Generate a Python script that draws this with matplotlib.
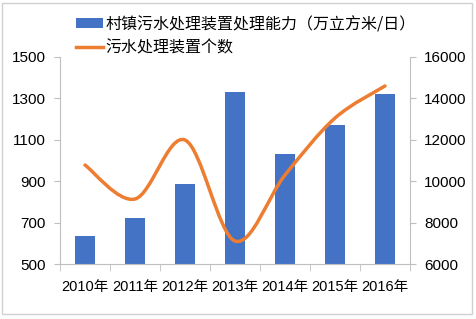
import matplotlib

matplotlib.use("Agg")

import matplotlib.pyplot as plt
import numpy as np
from matplotlib.lines import Line2D
from matplotlib.patches import PathPatch, Patch, Rectangle
from matplotlib.path import Path

plt.rcParams["font.family"] = ["Liberation Sans", "Noto Sans CJK SC"]

years = ["2010年", "2011年", "2012年", "2013年", "2014年", "2015年", "2016年"]
capacity = [635, 722, 886, 1333, 1031, 1171, 1321]
devices = [10780, 9140, 11990, 7110, 10300, 13050, 14600]

bar_label = "村镇污水处理装置处理能力（万立方米/日）"
line_label = "污水处理装置个数"

BLUE = "#4472C4"
ORANGE = "#ED7D31"
GRAY = "#BFBFBF"


def smooth_path(xs, ys):
    # Excel-style smoothed line: cubic Bezier through each point
    pts = np.column_stack([xs, ys]).astype(float)
    n = len(pts)
    verts = [pts[0]]
    codes = [Path.MOVETO]
    for i in range(n - 1):
        p0 = pts[max(i - 1, 0)]
        p1 = pts[i]
        p2 = pts[i + 1]
        p3 = pts[min(i + 2, n - 1)]
        c1 = p1 + (p2 - p0) / 6
        c2 = p2 - (p3 - p1) / 6
        verts += [c1, c2, p2]
        codes += [Path.CURVE4] * 3
    return Path(verts, codes)


fig = plt.figure(figsize=(4.77, 3.19), dpi=100)
ax = fig.add_axes([60 / 477, 1 - 264 / 319, 350 / 477, 207 / 319])
ax2 = ax.twinx()

x = np.arange(len(years))
ax.bar(x, capacity, width=0.4, color=BLUE, zorder=2)
ax.set_xlim(-0.5, len(years) - 0.5)
ax.set_ylim(500, 1500)
ax.set_yticks([500, 700, 900, 1100, 1300, 1500])
ax.set_xticks(x)
ax.set_xticklabels(years)
ax.set_xticks(np.arange(-0.5, len(years), 1), minor=True)
ax.tick_params(axis="x", which="major", length=0, labelsize=10.5, pad=11.5)
ax.tick_params(axis="x", which="minor", length=5, color=GRAY, direction="out")
ax.tick_params(axis="y", length=4, color=GRAY, labelsize=11, pad=6)

ax2.set_ylim(6000, 16000)
ax2.set_yticks([6000, 8000, 10000, 12000, 14000, 16000])
ax2.tick_params(axis="y", length=4, color=GRAY, labelsize=11, pad=6)
ax2.add_patch(PathPatch(smooth_path(x, devices), facecolor="none", edgecolor=ORANGE,
                        lw=2.5, capstyle="round", zorder=3))

for a in (ax, ax2):
    a.spines["top"].set_visible(False)
    for s in ("left", "right", "bottom"):
        a.spines[s].set_color(GRAY)
        a.spines[s].set_linewidth(0.8)
ax.spines["right"].set_visible(False)
ax2.spines["left"].set_visible(False)
ax2.spines["bottom"].set_visible(False)

handles = [Patch(facecolor=BLUE), Line2D([], [], color=ORANGE, lw=2.5)]
fig.legend(handles, [bar_label, line_label], loc="upper left",
           bbox_to_anchor=(76 / 477, 1 - 16 / 319), frameon=False,
           prop={"family": ["Noto Sans CJK SC"], "size": 11.5, "weight": "light"},
           handlelength=1.7, handleheight=0.6, handletextpad=0.15, labelspacing=0.4,
           borderaxespad=0, borderpad=0)

fig.patches.append(Rectangle((2 / 477, 5 / 319), 470 / 477, 311 / 319, transform=fig.transFigure,
                             facecolor="none", edgecolor="#D0D0D0", lw=1))

fig.savefig("out.png", dpi=100)
